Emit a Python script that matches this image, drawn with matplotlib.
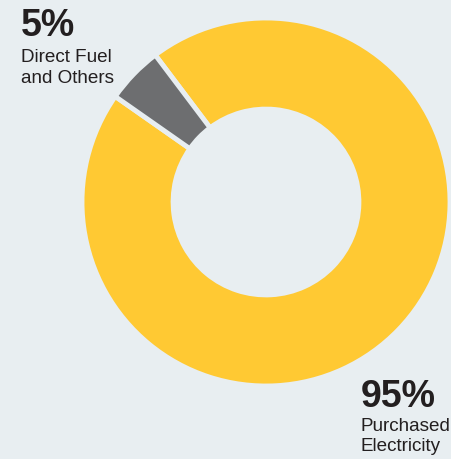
import matplotlib.pyplot as plt

# Dados
labels = ['Purchased\nElectricity', 'Direct Fuel\nand Others']
pcts = ['95%', '5%']
values = [95, 5]
colors = ['#ffc933', '#6d6e70']
bg = '#e8eef1'

plt.rcParams['font.family'] = ['Liberation Sans', 'DejaVu Sans']

W, H = 451, 460
fig = plt.figure(figsize=(W / 100, H / 100), dpi=100, facecolor=bg)

# eixo quadrado em pixels: centro (266, 203), raio 184
cx, cy, r = 266, 203, 184
ax = fig.add_axes([(cx - r) / W, (H - cy - r) / H, 2 * r / W, 2 * r / H])
ax.set_facecolor(bg)
ax.pie(values, colors=colors, startangle=145, counterclock=True,
       radius=1, wedgeprops=dict(width=0.495, edgecolor=bg, linewidth=3.5))
ax.set_xlim(-1, 1)
ax.set_ylim(-1, 1)
ax.axis('off')

# Rótulos
def px(x, y):
    return x / W, 1 - y / H

fig.text(*px(21, 36), pcts[1], fontsize=27, fontweight='bold', color='#231f20', va='baseline')
fig.text(*px(21, 62), labels[1].split('\n')[0], fontsize=13.6, color='#231f20', va='baseline')
fig.text(*px(21, 83), labels[1].split('\n')[1], fontsize=13.6, color='#231f20', va='baseline')

fig.text(*px(361, 407), pcts[0], fontsize=27, fontweight='bold', color='#231f20', va='baseline')
fig.text(*px(361, 431), labels[0].split('\n')[0], fontsize=13.6, color='#231f20', va='baseline')
fig.text(*px(361, 451), labels[0].split('\n')[1], fontsize=13.6, color='#231f20', va='baseline')

plt.savefig('out.png', dpi=100, facecolor=bg)
